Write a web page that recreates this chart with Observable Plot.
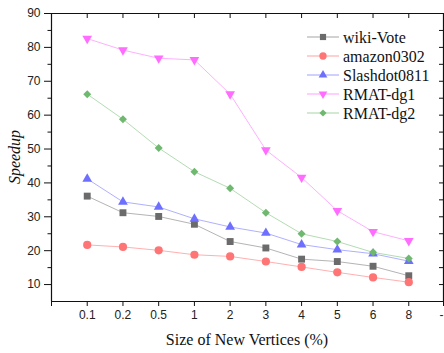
<!DOCTYPE html>
<html>
<head>
<meta charset="utf-8">
<script src="https://cdn.jsdelivr.net/npm/d3@7"></script>
<script src="https://cdn.jsdelivr.net/npm/@observablehq/plot@0.6"></script>
<style>
  html, body { margin: 0; padding: 0; background: #fff; }
  #chart { position: relative; width: 444px; height: 353px; }
</style>
</head>
<body>
<div id="chart"></div>
<script>
// ---- data ----
const categories = ["0.1", "0.2", "0.5", "1", "2", "3", "4", "5", "6", "8"];
const tickLabels = ["", "0.1", "0.2", "0.5", "1", "2", "3", "4", "5", "6", "8", "-"];
const seriesNames = ["wiki-Vote", "amazon0302", "Slashdot0811", "RMAT-dg1", "RMAT-dg2"];
const wikiVote    = [36.1, 31.2, 30.1, 27.8, 22.7, 20.8, 17.5, 16.8, 15.4, 12.6];
const amazon0302  = [21.7, 21.1, 20.1, 18.8, 18.3, 16.8, 15.2, 13.6, 12.1, 10.7];
const slashdot    = [41.2, 34.4, 32.9, 29.4, 27.0, 25.2, 21.8, 20.3, 19.1, 16.9];
const rmatDg1     = [82.6, 79.2, 76.8, 76.3, 66.2, 49.7, 41.6, 31.8, 25.6, 22.9];
const rmatDg2     = [66.2, 58.8, 50.3, 43.3, 38.4, 31.2, 25.0, 22.7, 19.5, 17.7];
const seriesValues = [wikiVote, amazon0302, slashdot, rmatDg1, rmatDg2];
const yMajorTicks = [10, 20, 30, 40, 50, 60, 70, 80, 90];
const yMinorTicks = [15, 25, 35, 45, 55, 65, 75, 85];

// ---- styles ----
const markerColors = ["#6b6b6b", "#ff7474", "#6f6fff", "#ff6cff", "#6fb86f"];
const lineColors   = ["#b4b4b4", "#ffb0b0", "#b0b0ff", "#ffb0ff", "#b4dcb4"];
const symbols      = ["square", "circle", "triangle", "triangle", "diamond2"];
const rotations    = [0, 0, 0, 180, 0];
const radii        = [3.9, 4.1, 3.6, 3.6, 3.6];

const rows = seriesValues.map((vals, s) =>
  vals.map((v, i) => ({series: seriesNames[s], s, xi: i + 1, cat: categories[i], y: v}))
);

const marks = [];
rows.forEach((data, s) => {
  marks.push(Plot.line(data, {x: "xi", y: "y", stroke: lineColors[s], strokeWidth: 1}));
});
rows.forEach((data, s) => {
  marks.push(Plot.dot(data, {x: "xi", y: "y", symbol: () => symbols[s], r: radii[s],
    rotate: rotations[s], fill: markerColors[s], stroke: "none"}));
});

const axisStroke = "#111";
const lastIndex = tickLabels.length - 1;
marks.push(
  // left axis
  Plot.axisY({anchor: "left", ticks: yMajorTicks, tickSize: 7, tickPadding: 4,
    label: null, stroke: axisStroke, fill: "#222", fontSize: 12}),
  Plot.axisY({anchor: "left", ticks: yMinorTicks, tickSize: 3.5, text: null,
    label: null, stroke: axisStroke}),
  // right axis (inward)
  Plot.axisY({anchor: "right", ticks: yMajorTicks.concat(yMinorTicks), tickSize: -5,
    text: null, label: null, stroke: axisStroke, dx: -1}),
  // bottom axis
  Plot.axisX({anchor: "bottom", ticks: d3.range(lastIndex), tickSize: 5, tickPadding: 4,
    tickFormat: i => tickLabels[i], label: null, stroke: axisStroke, fill: "#222", fontSize: 12}),
  Plot.axisX({anchor: "bottom", ticks: [lastIndex], tickSize: 5, tickPadding: 4,
    tickFormat: i => tickLabels[i], label: null, stroke: axisStroke, fill: "#222", fontSize: 12,
    textAnchor: "end", dx: -1}),
  // top axis (inward)
  Plot.axisX({anchor: "top", ticks: d3.range(1, categories.length + 1), tickSize: -4,
    text: null, label: null, stroke: axisStroke}),
  // frame
  Plot.ruleY([5, 90], {stroke: axisStroke, strokeWidth: 1.2}),
  Plot.ruleX([0], {stroke: axisStroke, strokeWidth: 1.2}),
  Plot.ruleX([11], {stroke: axisStroke, strokeWidth: 1.2, dx: -1})
);

const plot = Plot.plot({
  width: 444,
  height: 353,
  marginLeft: 51,
  marginRight: 0,
  marginTop: 13,
  marginBottom: 52,
  style: {fontFamily: "'Liberation Sans', Arial, sans-serif", background: "#fff", overflow: "visible"},
  x: {type: "linear", domain: [0, 11]},
  y: {domain: [5, 90]},
  marks
});

const svg = d3.select(plot);

// axis titles
svg.append("text")
  .attr("transform", "translate(20,157) rotate(-90)")
  .attr("text-anchor", "middle")
  .attr("font-family", "'Liberation Serif', 'Times New Roman', serif")
  .attr("font-style", "italic")
  .attr("font-size", 16)
  .attr("fill", "#111")
  .text("Speedup");

svg.append("text")
  .attr("x", 247)
  .attr("y", 345)
  .attr("text-anchor", "middle")
  .attr("font-family", "'Liberation Serif', 'Times New Roman', serif")
  .attr("font-size", 16)
  .attr("fill", "#111")
  .text("Size of New Vertices (%)");

// legend
const symMap = {square: d3.symbolSquare, circle: d3.symbolCircle, triangle: d3.symbolTriangle, diamond2: d3.symbolDiamond2};
const lg = svg.append("g").attr("transform", "translate(307,37)");
seriesNames.forEach((name, s) => {
  const g = lg.append("g").attr("transform", `translate(0,${s * 19})`);
  g.append("line").attr("x1", 0).attr("x2", 32).attr("y1", 0).attr("y2", 0)
    .attr("stroke", lineColors[s]).attr("stroke-width", 1.2);
  g.append("path")
    .attr("d", d3.symbol(symMap[symbols[s]], Math.PI * radii[s] * radii[s] * 0.8)())
    .attr("transform", `translate(16,0) rotate(${rotations[s]})`)
    .attr("fill", markerColors[s]);
  g.append("text").attr("x", 36).attr("y", 0).attr("dy", "0.35em")
    .attr("text-anchor", "start")
    .attr("font-family", "'Liberation Serif', 'Times New Roman', serif")
    .attr("font-size", 16).attr("fill", "#111")
    .text(name);
});

document.getElementById("chart").appendChild(plot);
</script>
</body>
</html>
